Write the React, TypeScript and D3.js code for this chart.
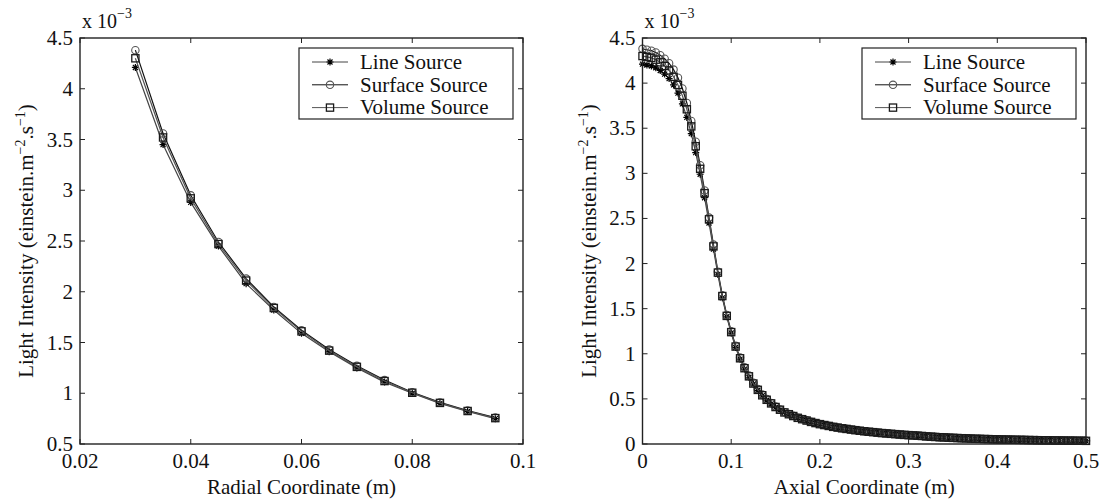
import React from 'react';
import * as d3 from 'd3';

// ---------- data ----------
const seriesNames = ['Line Source', 'Surface Source', 'Volume Source'];

const radialX = [0.03, 0.035, 0.04, 0.045, 0.05, 0.055, 0.06, 0.065, 0.07, 0.075, 0.08, 0.085, 0.09, 0.095];
const radialLine = [4.21, 3.45, 2.88, 2.45, 2.08, 1.82, 1.59, 1.41, 1.25, 1.11, 1.0, 0.9, 0.82, 0.75];
const radialSurface = [4.38, 3.56, 2.95, 2.49, 2.13, 1.85, 1.62, 1.43, 1.27, 1.13, 1.01, 0.91, 0.83, 0.76];
const radialVolume = [4.3, 3.52, 2.92, 2.47, 2.11, 1.84, 1.61, 1.42, 1.26, 1.12, 1.005, 0.905, 0.825, 0.755];

const axialX = [
  0, 0.005, 0.01, 0.015, 0.02, 0.025, 0.03, 0.035, 0.04, 0.045,
  0.05, 0.055, 0.06, 0.065, 0.07, 0.075, 0.08, 0.085, 0.09, 0.095,
  0.1, 0.105, 0.11, 0.115, 0.12, 0.125, 0.13, 0.135, 0.14, 0.145,
  0.15, 0.155, 0.16, 0.165, 0.17, 0.175, 0.18, 0.185, 0.19, 0.195,
  0.2, 0.205, 0.21, 0.215, 0.22, 0.225, 0.23, 0.235, 0.24, 0.245,
  0.25, 0.255, 0.26, 0.265, 0.27, 0.275, 0.28, 0.285, 0.29, 0.295,
  0.3, 0.305, 0.31, 0.315, 0.32, 0.325, 0.33, 0.335, 0.34, 0.345,
  0.35, 0.355, 0.36, 0.365, 0.37, 0.375, 0.38, 0.385, 0.39, 0.395,
  0.4, 0.405, 0.41, 0.415, 0.42, 0.425, 0.43, 0.435, 0.44, 0.445,
  0.45, 0.455, 0.46, 0.465, 0.47, 0.475, 0.48, 0.485, 0.49, 0.495,
  0.5,
];
const axialLine = [
  4.21, 4.2, 4.19, 4.17, 4.14, 4.1, 4.05, 3.98, 3.89, 3.77,
  3.62, 3.44, 3.23, 2.99, 2.73, 2.45, 2.16, 1.88, 1.62, 1.41,
  1.23, 1.07, 0.94, 0.83, 0.74, 0.665, 0.595, 0.535, 0.485, 0.445,
  0.405, 0.378, 0.35, 0.33, 0.31, 0.29, 0.275, 0.26, 0.245, 0.232,
  0.22, 0.21, 0.2, 0.19, 0.182, 0.174, 0.167, 0.16, 0.153, 0.147,
  0.141, 0.136, 0.131, 0.126, 0.121, 0.117, 0.113, 0.109, 0.105, 0.101,
  0.098, 0.095, 0.092, 0.089, 0.084, 0.081, 0.078, 0.075, 0.073, 0.07,
  0.068, 0.066, 0.064, 0.062, 0.06, 0.058, 0.057, 0.055, 0.054, 0.052,
  0.051, 0.05, 0.049, 0.048, 0.047, 0.046, 0.045, 0.044, 0.043, 0.042,
  0.041, 0.041, 0.04, 0.039, 0.039, 0.038, 0.037, 0.037, 0.036, 0.036,
  0.035,
];
const axialSurface = [
  4.38, 4.37, 4.36, 4.34, 4.31, 4.27, 4.22, 4.15, 4.06, 3.94,
  3.78, 3.58, 3.35, 3.09, 2.81, 2.51, 2.21, 1.91, 1.65, 1.43,
  1.25, 1.09, 0.96, 0.85, 0.76, 0.68, 0.61, 0.55, 0.5, 0.455,
  0.415, 0.383, 0.353, 0.332, 0.312, 0.292, 0.277, 0.262, 0.247, 0.234,
  0.222, 0.211, 0.201, 0.191, 0.183, 0.175, 0.168, 0.161, 0.154, 0.148,
  0.142, 0.137, 0.132, 0.127, 0.122, 0.118, 0.114, 0.11, 0.106, 0.102,
  0.099, 0.096, 0.093, 0.09, 0.085, 0.082, 0.079, 0.076, 0.074, 0.071,
  0.069, 0.067, 0.065, 0.063, 0.061, 0.059, 0.058, 0.056, 0.055, 0.053,
  0.052, 0.051, 0.05, 0.049, 0.048, 0.047, 0.046, 0.045, 0.044, 0.043,
  0.042, 0.042, 0.041, 0.04, 0.04, 0.039, 0.038, 0.038, 0.037, 0.037,
  0.036,
];
const axialVolume = [
  4.3, 4.29, 4.28, 4.26, 4.23, 4.19, 4.14, 4.07, 3.98, 3.86,
  3.71, 3.52, 3.3, 3.05, 2.78, 2.49, 2.19, 1.9, 1.64, 1.42,
  1.24, 1.08, 0.95, 0.84, 0.75, 0.67, 0.6, 0.54, 0.49, 0.45,
  0.41, 0.38, 0.35, 0.33, 0.31, 0.29, 0.275, 0.26, 0.245, 0.232,
  0.22, 0.21, 0.2, 0.19, 0.182, 0.174, 0.167, 0.16, 0.153, 0.147,
  0.141, 0.136, 0.131, 0.126, 0.121, 0.117, 0.113, 0.109, 0.105, 0.101,
  0.098, 0.095, 0.092, 0.089, 0.084, 0.081, 0.078, 0.075, 0.073, 0.07,
  0.068, 0.066, 0.064, 0.062, 0.06, 0.058, 0.057, 0.055, 0.054, 0.052,
  0.051, 0.05, 0.049, 0.048, 0.047, 0.046, 0.045, 0.044, 0.043, 0.042,
  0.041, 0.041, 0.04, 0.039, 0.039, 0.038, 0.037, 0.037, 0.036, 0.036,
  0.035,
];

const radialXTicks = [0.02, 0.04, 0.06, 0.08, 0.1];
const radialYTicks = [0.5, 1, 1.5, 2, 2.5, 3, 3.5, 4, 4.5];
const axialXTicks = [0, 0.1, 0.2, 0.3, 0.4, 0.5];
const axialYTicks = [0, 0.5, 1, 1.5, 2, 2.5, 3, 3.5, 4, 4.5];

// ---------- styles ----------
const FONT = "'Liberation Serif', 'Times New Roman', serif";
const STYLES = [
  { line: '#444', marker: '#000', shape: 'star' },
  { line: '#111', marker: '#555', shape: 'circle' },
  { line: '#555', marker: '#1a1a1a', shape: 'square' },
];

function Marker({ shape, cx, cy, color }: { shape: string; cx: number; cy: number; color: string }) {
  if (shape === 'star') {
    const r = 3.5;
    const d = r * 0.72;
    const p = `M${cx - r},${cy}H${cx + r}M${cx},${cy - r}V${cy + r}M${cx - d},${cy - d}L${cx + d},${cy + d}M${cx - d},${cy + d}L${cx + d},${cy - d}`;
    return <path d={p} stroke={color} strokeWidth={1.2} fill="none" />;
  }
  if (shape === 'circle') {
    return <circle cx={cx} cy={cy} r={3.7} stroke={color} strokeWidth={1.1} fill="none" />;
  }
  return <rect x={cx - 3.6} y={cy - 3.6} width={7.2} height={7.2} stroke={color} strokeWidth={1.3} fill="none" />;
}

type PanelProps = {
  left: number; right: number; top: number; bottom: number;
  xDomain: [number, number]; yDomain: [number, number];
  xTicks: number[]; yTicks: number[];
  xs: number[]; series: number[][];
  xTitle: string;
};

function Panel(p: PanelProps) {
  const x = d3.scaleLinear().domain(p.xDomain).range([p.left, p.right]);
  const y = d3.scaleLinear().domain(p.yDomain).range([p.bottom, p.top]);
  const tl = 5;
  const lineGen = d3.line<[number, number]>().x((d) => x(d[0])).y((d) => y(d[1]));
  const legW = 214, legH = 71;
  const legX = p.right - 10 - legW;
  const legY = p.top + 10;
  return (
    <g>
      {/* data */}
      {p.series.map((vals, si) => {
        const pts: [number, number][] = p.xs.map((xv, i) => [xv, vals[i]]);
        return (
          <g key={si}>
            <path d={lineGen(pts) || ''} stroke={STYLES[si].line} strokeWidth={1.2} fill="none" />
            {pts.map((d, i) => (
              <Marker key={i} shape={STYLES[si].shape} cx={x(d[0])} cy={y(d[1])} color={STYLES[si].marker} />
            ))}
          </g>
        );
      })}
      {/* frame */}
      <rect x={p.left} y={p.top} width={p.right - p.left} height={p.bottom - p.top} fill="none" stroke="#222" strokeWidth={1.4} />
      {/* ticks */}
      {p.xTicks.map((t) => (
        <g key={'x' + t}>
          <line x1={x(t)} x2={x(t)} y1={p.bottom} y2={p.bottom - tl} stroke="#222" />
          <line x1={x(t)} x2={x(t)} y1={p.top} y2={p.top + tl} stroke="#222" />
          <text x={x(t)} y={p.bottom + 23.5} textAnchor="middle" fontSize={21} fontFamily={FONT} fill="#111">{String(t)}</text>
        </g>
      ))}
      {p.yTicks.map((t) => (
        <g key={'y' + t}>
          <line x1={p.left} x2={p.left + tl} y1={y(t)} y2={y(t)} stroke="#222" />
          <line x1={p.right} x2={p.right - tl} y1={y(t)} y2={y(t)} stroke="#222" />
          <text x={p.left - 7} y={y(t) + 7} textAnchor="end" fontSize={21} fontFamily={FONT} fill="#111">{String(t)}</text>
        </g>
      ))}
      {/* exponent */}
      <text x={p.left + 2} y={p.top - 10} fontSize={20} fontFamily={FONT} fill="#111">
        x 10<tspan dy={-10} fontSize={14}>−3</tspan>
      </text>
      {/* axis titles */}
      <text x={(p.left + p.right) / 2} y={p.bottom + 50} textAnchor="middle" fontSize={21} fontFamily={FONT} fill="#111">{p.xTitle}</text>
      <text transform={`translate(${p.left - 47},${(p.top + p.bottom) / 2}) rotate(-90)`} textAnchor="middle" fontSize={21} fontFamily={FONT} fill="#111">
        Light Intensity (einstein.m<tspan dy={-8} fontSize={14}>−2</tspan><tspan dy={8}>.s</tspan><tspan dy={-8} fontSize={14}>−1</tspan><tspan dy={8}>)</tspan>
      </text>
      {/* legend */}
      <rect x={legX} y={legY} width={legW} height={legH} fill="#fff" stroke="#222" strokeWidth={1.2} />
      {seriesNames.map((name, i) => {
        const cy = legY + 14 + i * 22.8;
        return (
          <g key={name}>
            <line x1={legX + 13} x2={legX + 49} y1={cy} y2={cy} stroke={STYLES[i].line} strokeWidth={1} />
            <Marker shape={STYLES[i].shape} cx={legX + 31} cy={cy} color={STYLES[i].marker} />
            <text x={legX + 61} y={cy + 6.8} fontSize={21} fontFamily={FONT} fill="#111">{name}</text>
          </g>
        );
      })}
    </g>
  );
}

export default function App() {
  return (
    <svg width={1103} height={502} style={{ position: 'absolute', left: 0, top: 0, background: '#fff' }}>
      <rect width={1103} height={502} fill="#fff" />
      <Panel
        left={80} right={523} top={38} bottom={444}
        xDomain={[0.02, 0.1]} yDomain={[0.5, 4.5]}
        xTicks={radialXTicks} yTicks={radialYTicks}
        xs={radialX} series={[radialLine, radialSurface, radialVolume]}
        xTitle="Radial Coordinate (m)"
      />
      <Panel
        left={642.5} right={1086} top={38} bottom={444}
        xDomain={[0, 0.5]} yDomain={[0, 4.5]}
        xTicks={axialXTicks} yTicks={axialYTicks}
        xs={axialX} series={[axialLine, axialSurface, axialVolume]}
        xTitle="Axial Coordinate (m)"
      />
    </svg>
  );
}
